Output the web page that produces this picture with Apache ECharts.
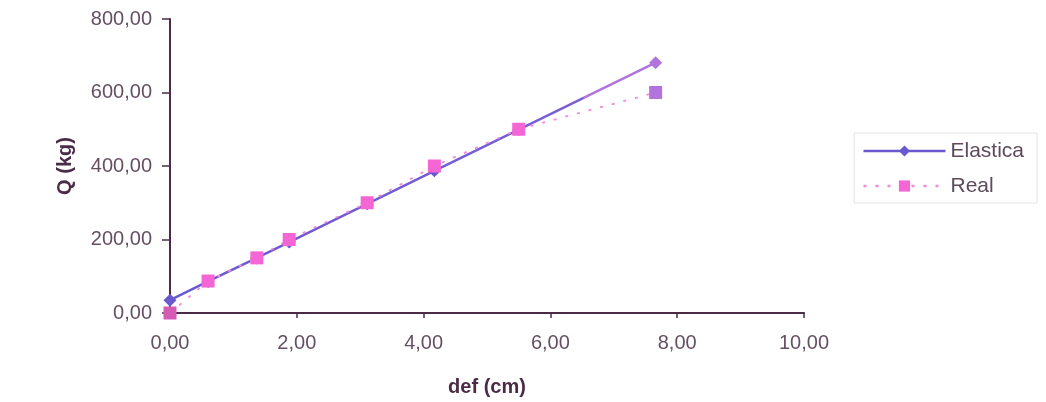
<!DOCTYPE html>
<html>
<head>
<meta charset="utf-8">
<script src="https://cdn.jsdelivr.net/npm/echarts@6/dist/echarts.min.js"></script>
<style>
html,body{margin:0;padding:0;background:#fff;}
#c{width:1046px;height:402px;}
</style>
</head>
<body>
<div id="c"></div>
<script>
// deformation (cm) for each load step
const defCm = [0.00, 0.60, 1.37, 1.88, 3.11, 4.17, 5.50, 7.66];
// Elastic (theoretical) load, kg
const elastica = [35, 86, 150, 193, 297, 387, 499, 681];
// Real (measured) load, kg
const real = [0, 87, 150, 200, 300, 400, 500, 600];
const seriesNames = ['Elastica', 'Real'];
const xTicks = [0, 2, 4, 6, 8, 10];
const yTicks = [0, 200, 400, 600, 800];

const fmt = v => v.toFixed(2).replace('.', ',');
const labelColor = '#655063';
const axisColor = '#4a2c48';
const FONT = 'Liberation Sans, Arial, sans-serif';

const elData = defCm.map((x, i) => {
  const d = {value: [x, elastica[i]]};
  if (i === defCm.length - 1) d.itemStyle = {color: '#b074dc'};
  return d;
});
const reData = defCm.map((x, i) => {
  const d = {value: [x, real[i]]};
  if (i === defCm.length - 1) d.itemStyle = {color: '#b074dc'};
  if (i === 0) d.itemStyle = {color: '#d45cb4'};
  return d;
});

const chart = echarts.init(document.getElementById('c'), null, {renderer: 'canvas'});
chart.setOption({
  animation: false,
  backgroundColor: '#ffffff',
  grid: {left: 170, right: 242, top: 19, bottom: 89, containLabel: false},
  xAxis: {
    type: 'value', min: xTicks[0], max: xTicks[xTicks.length - 1], interval: 2,
    name: 'def (cm)', nameLocation: 'middle', nameGap: 64,
    nameTextStyle: {fontFamily: FONT, fontWeight: 'bold', fontSize: 20, color: axisColor},
    axisLine: {show: true, onZero: false, lineStyle: {color: axisColor, width: 2}},
    axisTick: {show: true, length: 5, lineStyle: {color: axisColor, width: 1.5}},
    axisLabel: {formatter: fmt, fontFamily: FONT, fontSize: 20, color: labelColor, margin: 20},
    splitLine: {show: false}
  },
  yAxis: {
    type: 'value', min: yTicks[0], max: yTicks[yTicks.length - 1], interval: 200,
    name: 'Q (kg)', nameLocation: 'middle', nameGap: 95, nameRotate: 90,
    nameTextStyle: {fontFamily: FONT, fontWeight: 'bold', fontSize: 20, color: axisColor},
    axisLine: {show: true, onZero: false, lineStyle: {color: axisColor, width: 2}},
    axisTick: {show: true, length: 8, lineStyle: {color: axisColor, width: 1.5}},
    axisLabel: {formatter: fmt, fontFamily: FONT, fontSize: 20, color: labelColor, margin: 18},
    splitLine: {show: false}
  },
  legend: {
    right: 9, top: 133,
    orient: 'vertical',
    itemGap: 13,
    itemWidth: 82, itemHeight: 14,
    padding: [7, 13, 6, 8],
    borderColor: '#e2e2e2', borderWidth: 1,
    textStyle: {fontFamily: FONT, fontSize: 21, lineHeight: 22, color: '#5d4a5b'},
    data: [
      {name: seriesNames[0], lineStyle: {width: 2.5, color: '#6a58d0'}},
      {name: seriesNames[1], lineStyle: {width: 2.5}}
    ]
  },
  series: [
    {
      name: seriesNames[0], type: 'line', data: elData,
      symbol: 'diamond', symbolSize: 13,
      itemStyle: {color: '#6a58d0'},
      lineStyle: {width: 2.5, color: {
        type: 'linear', x: 0, y: 0, x2: 1, y2: 0,
        colorStops: [
          {offset: 0, color: '#6a58d0'},
          {offset: 0.845, color: '#7a5fd4'},
          {offset: 0.85, color: '#b074dc'},
          {offset: 1, color: '#b074dc'}
        ]
      }},
      z: 2
    },
    {
      name: seriesNames[1], type: 'line', data: reData,
      symbol: 'rect', symbolSize: 13,
      itemStyle: {color: '#f466d4'},
      lineStyle: {width: 1.8, type: [3, 9], color: '#f08ad8'},
      z: 3
    }
  ]
});
</script>
</body>
</html>
